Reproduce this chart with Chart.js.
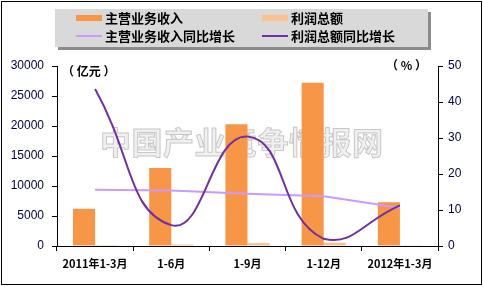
<!DOCTYPE html>
<html>
<head>
<meta charset="utf-8">
<script src="https://cdn.jsdelivr.net/npm/chart.js@4/dist/chart.umd.min.js"></script>
<style>
	html, body { margin: 0; padding: 0; background: #fff; }
	#wrap { width: 483px; height: 287px; position: relative; }
</style>
</head>
<body>
<div id="wrap"><canvas id="mainChart" width="483" height="287"></canvas></div>
<script>
const categories = ["2011年1-3月", "1-6月", "1-9月", "1-12月", "2012年1-3月"];
const revenue = [6200, 13000, 20300, 27200, 7300];
const profit = [150, 250, 480, 560, 120];
const revenueGrowth = [15.6, 15.4, 14.5, 13.8, 10.6];
const profitGrowth = [43.6, 5.8, 30.4, 2.0, 11.3];
const leftTicks = [0, 5000, 10000, 15000, 20000, 25000, 30000];
const rightTicks = [0, 10, 20, 30, 40, 50];

const CJK = "'Noto Sans CJK SC', 'Noto Sans', sans-serif";

// gray legend box, outer frame, unit labels, watermark
const decor = {
	id: "decor",
	beforeDatasetsDraw(chart) {
		const ctx = chart.ctx;
		ctx.save();
		ctx.font = "bold 31px " + CJK;
		ctx.textBaseline = "middle";
		ctx.textAlign = "left";
		ctx.fillStyle = "rgba(238,238,238,0.9)";
		ctx.strokeStyle = "rgba(195,195,195,0.9)";
		ctx.lineWidth = 1;
		const wm = "中国产业竞争情报网";
		let x = 100;
		for (const ch of wm) {
			ctx.fillText(ch, x, 142);
			ctx.strokeText(ch, x, 142);
			x += 31.5;
		}
		ctx.restore();
	},
	afterDraw(chart) {
		const ctx = chart.ctx;
		ctx.save();
		// frame
		ctx.strokeStyle = "#000";
		ctx.lineWidth = 1;
		ctx.strokeRect(1.5, 1.5, 480, 283);
		// legend box with shadow
		ctx.fillStyle = "#8c8c8c";
		ctx.fillRect(58, 12, 373, 38);
		ctx.fillStyle = "#d9d9d9";
		ctx.fillRect(55, 9, 373, 38);
		const items = chart.data.datasets;
		const pos = [[76, 18], [262, 18], [76, 36], [262, 36]];
		ctx.font = "bold 13px " + CJK;
		ctx.textBaseline = "middle";
		ctx.textAlign = "left";
		items.forEach((ds, i) => {
			const [px, py] = pos[i];
			if (ds.type === "bar") {
				ctx.fillStyle = ds.backgroundColor;
				ctx.fillRect(px, py - 3, 26, 6);
			} else {
				ctx.strokeStyle = ds.borderColor;
				ctx.lineWidth = 2;
				ctx.beginPath();
				ctx.moveTo(px, py);
				ctx.lineTo(px + 26, py);
				ctx.stroke();
			}
			ctx.fillStyle = "#000";
			ctx.fillText(ds.label, px + 29, py);
		});
		// unit labels
		ctx.font = "bold 12px " + CJK;
		ctx.fillText("（ 亿元 ）", 62, 71);
		ctx.fillText("（ % ）", 386, 65);
		ctx.restore();
	},
};

new Chart(document.getElementById("mainChart").getContext("2d"), {
	type: "bar",
	data: {
		labels: categories,
		datasets: [
			{
				type: "bar",
				label: "主营业务收入",
				data: revenue,
				backgroundColor: "#f79646",
				yAxisID: "y",
				order: 3,
			},
			{
				type: "bar",
				label: "利润总额",
				data: profit,
				backgroundColor: "#fac090",
				yAxisID: "y",
				order: 4,
			},
			{
				type: "line",
				label: "主营业务收入同比增长",
				data: revenueGrowth,
				borderColor: "#cc99ff",
				borderWidth: 2,
				pointRadius: 0,
				tension: 0,
				fill: false,
				yAxisID: "y1",
				order: 2,
			},
			{
				type: "line",
				label: "利润总额同比增长",
				data: profitGrowth,
				borderColor: "#7030a0",
				borderWidth: 2,
				pointRadius: 0,
				tension: 0.5,
				fill: false,
				yAxisID: "y1",
				order: 1,
			},
		],
	},
	options: {
		responsive: false,
		animation: false,
		categoryPercentage: 0.58,
		barPercentage: 1,
		layout: { padding: { top: 66, left: 0, right: 0, bottom: 0 } },
		plugins: {
			legend: { display: false },
			tooltip: { enabled: false },
		},
		scales: {
			x: {
				afterFit: (s) => { s.height = 41; },
				grid: {
					offset: true,
					drawOnChartArea: false,
					tickLength: 5,
					color: "#000",
				},
				border: { color: "#000", width: 1 },
				ticks: {
					color: "#000",
					font: { family: CJK, size: 11, weight: "bold" },
					padding: 6,
					maxRotation: 0,
				},
			},
			y: {
				position: "left",
				min: 0,
				max: 30000,
				afterFit: (s) => { s.width = 57; },
				afterBuildTicks: (s) => { s.ticks = leftTicks.map((v) => ({ value: v })); },
				grid: { drawOnChartArea: false, tickLength: 5, color: "#000" },
				border: { color: "#000", width: 1 },
				ticks: {
					color: "#000040",
					font: { family: "'Liberation Sans', Arial, sans-serif", size: 12 },
					padding: 8,
					callback: (v) => String(v),
				},
			},
			y1: {
				position: "right",
				min: 0,
				max: 50,
				afterFit: (s) => { s.width = 45; },
				afterBuildTicks: (s) => { s.ticks = rightTicks.map((v) => ({ value: v })); },
				grid: { drawOnChartArea: false, tickLength: 5, color: "#000" },
				border: { color: "#000", width: 1 },
				ticks: {
					color: "#000040",
					font: { family: "'Liberation Sans', Arial, sans-serif", size: 12 },
					padding: 5,
					callback: (v) => String(v),
				},
			},
		},
	},
	plugins: [decor],
});
</script>
</body>
</html>
